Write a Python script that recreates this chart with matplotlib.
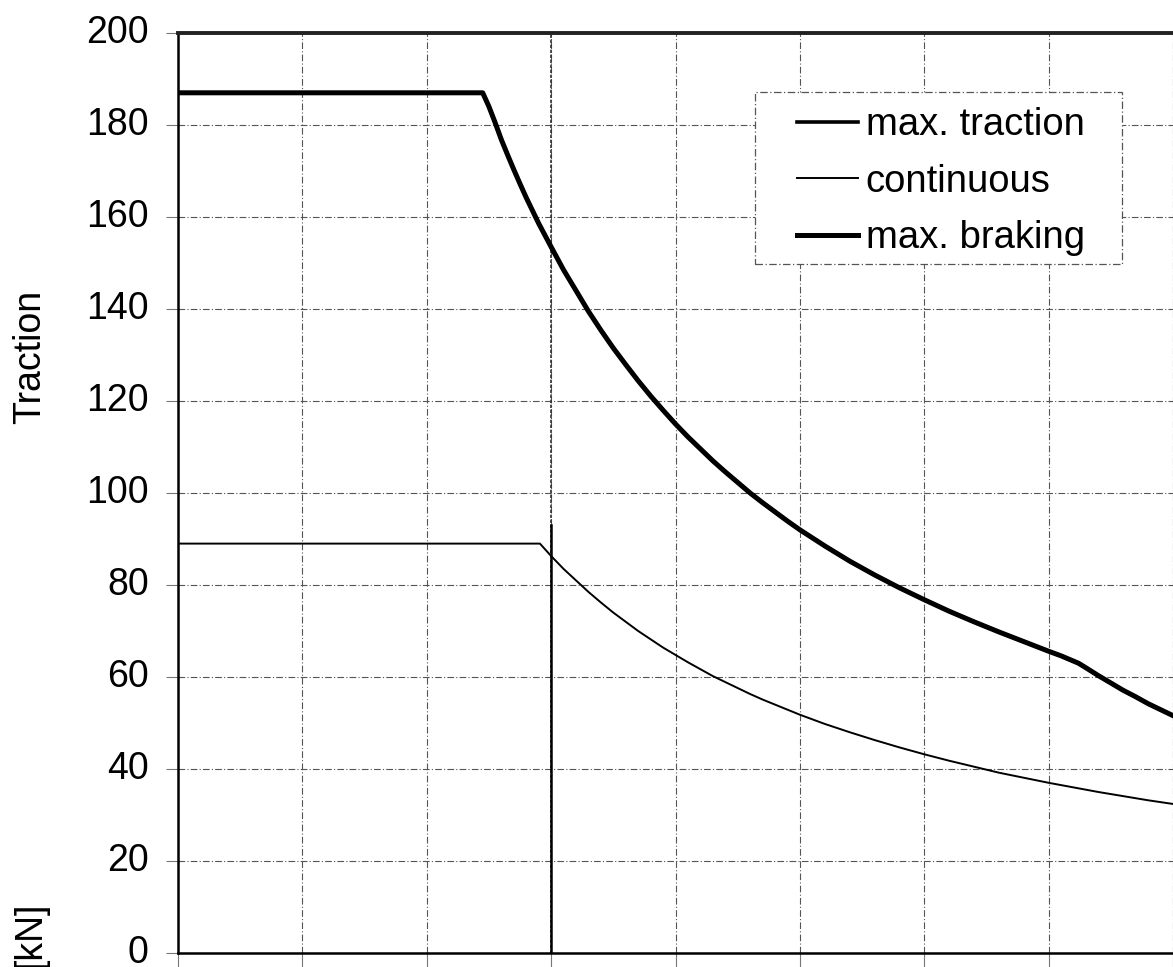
import matplotlib
matplotlib.use("Agg")
import matplotlib.pyplot as plt
import matplotlib.transforms as mtransforms
from matplotlib.patches import Rectangle

# ---- data ----
speed_max = [0, 24.5, 25, 25.5, 26, 26.5, 27, 27.5, 28, 29, 30, 31, 32, 33, 34, 35, 36, 37, 38, 39, 40,
             41, 42, 43, 44, 45, 46, 47, 48, 49, 50, 52, 54, 56, 58, 60, 62, 64, 66, 68, 70, 71, 72.4,
             73, 74, 75, 76, 77, 78, 79, 80]
force_max_traction = [187, 187, 184, 180.5, 176.8, 173.5, 170.3, 167.2, 164.2, 158.6, 153.5, 148.5, 144, 139.5,
                      135.4, 131.5, 127.9, 124.4, 121.1, 118, 115, 112.2, 109.6, 107, 104.6, 102.3, 100, 97.9,
                      95.9, 93.9, 92, 88.5, 85.2, 82.2, 79.4, 76.8, 74.3, 72, 69.8, 67.7, 65.6, 64.6, 63,
                      62, 60.3, 58.7, 57.1, 55.7, 54.2, 52.9, 51.6]
force_max_braking = list(force_max_traction)

speed_cont = [0, 29.1, 30, 31, 32, 33, 34, 35, 36, 37, 38, 39, 40, 41, 42, 43, 44, 45, 46, 47, 48, 49, 50,
              52, 54, 56, 58, 60, 62, 64, 66, 68, 70, 72, 74, 76, 78, 80]
force_continuous = [89, 89, 86.3, 83.5, 81, 78.5, 76.2, 74, 72, 70, 68.2, 66.4, 64.8, 63.2, 61.7, 60.2, 58.9,
                    57.6, 56.3, 55.1, 54, 52.9, 51.8, 49.8, 48, 46.3, 44.7, 43.2, 41.8, 40.5, 39.2, 38.1, 37,
                    36, 35, 34.1, 33.2, 32.4]

y_ticks = [0, 20, 40, 60, 80, 100, 120, 140, 160, 180, 200]
x_grid = [0, 10, 20, 30, 40, 50, 60, 70, 80]
marker_speed = 30
marker_top = 93

plt.rcParams['font.family'] = ['Liberation Sans', 'DejaVu Sans']

W, H = 1173, 967
fig = plt.figure(figsize=(W / 100, H / 100), dpi=100)
ax = fig.add_axes([178 / W, (H - 953) / H, (W - 178) / W, (953 - 33) / H])

ax.plot(speed_max, force_max_traction, color='black', lw=2.6, label='max. traction', zorder=4)
ax.plot(speed_cont, force_continuous, color='black', lw=1.4, label='continuous', zorder=4)
ax.plot(speed_max, force_max_braking, color='black', lw=3.6, label='max. braking', zorder=3)

# darker vertical line at the 30 grid position
ax.axvline(marker_speed, color='#333333', lw=1.2, ls=(0, (2, 1)), zorder=2)
ax.plot([marker_speed, marker_speed], [0, marker_top], color='black', lw=1.8, zorder=2)

ax.set_xlim(0, (W - 178) / 12.5)
ax.set_ylim(0, 200)
ax.set_yticks(y_ticks)
ax.set_xticks(x_grid)
ax.set_xticklabels([])
ax.tick_params(axis='y', labelsize=27, length=9, width=0.8, color='#777777', pad=12)
ax.tick_params(axis='x', length=16, width=0.8, color='#777777')
ax.grid(True, color='#555555', lw=0.8, ls=(0, (6, 2, 1, 2)))

# tick labels sit slightly above their gridlines in the reference
shift = mtransforms.ScaledTranslation(0, 4 / 100, fig.dpi_scale_trans)
for lbl in ax.get_yticklabels():
    lbl.set_transform(lbl.get_transform() + shift)

for s in ['left', 'bottom']:
    ax.spines[s].set_linewidth(1.8)
ax.spines['top'].set_linewidth(2.8)
ax.spines['top'].set_color('#222222')
ax.spines['right'].set_visible(False)

# legend frame drawn separately (wider horizontal padding than matplotlib allows)
frame = Rectangle((755 / W, 1 - 264 / H), (1122 - 755) / W, (264 - 92) / H, transform=fig.transFigure,
                  facecolor='white', edgecolor='#555555', lw=0.9, ls=(0, (6, 2, 1, 2)), zorder=5,
                  clip_on=False)
ax.add_patch(frame)

leg = ax.legend(loc='upper left', bbox_to_anchor=(797 / W, 1 - 107 / H), bbox_transform=fig.transFigure,
                fontsize=27.5, frameon=False, handlelength=1.6, handletextpad=0.2, borderpad=0,
                labelspacing=0.54, borderaxespad=0)
leg.set_zorder(6)

fig.text(30 / W, 1 - 357 / H, 'Traction', rotation=90, fontsize=27, ha='center', va='center')
fig.text(30 / W, 1 - 935 / H, '[kN]', rotation=90, fontsize=27, ha='center', va='center')

fig.savefig('out.png', dpi=100)
